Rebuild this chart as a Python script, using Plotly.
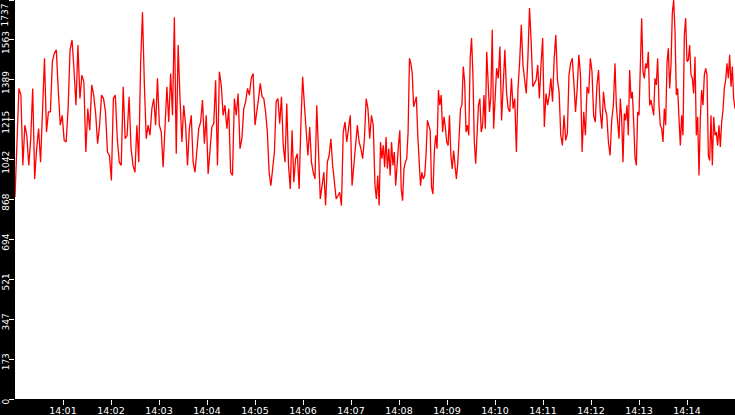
import numpy as np
import pandas as pd
import plotly.graph_objects as go

# lecturas por tramos de 2.5 min (14:00:00 -> 14:15:00)
tramo_1 = [880, 1104, 1352, 1323, 1017, 1192, 1148, 1017, 1133, 1352,
           958, 1090, 1177, 1031, 1294, 1483, 1162, 1250, 1250, 1469,
           1505, 1520, 1345, 1192, 1235, 1126, 1119, 1264, 1520, 1563,
           1432, 1279, 1541, 1308, 1410, 1381, 1075, 1264, 1170, 1367,
           1323, 1243, 1111, 1192, 1323, 1308, 1250, 1075, 1060, 951,
           1308, 1323, 1133, 1031, 1017, 1359, 1133, 1148, 1316, 1090, 1017]
tramo_2 = [987, 1192, 1031, 1461, 1684, 1367, 1133, 1192, 1148, 1264,
           1308, 1192, 1396, 1192, 1162, 1009, 1162, 1359, 1206, 1417,
           1235, 1662, 1068, 1541, 1308, 1119, 1279, 1192, 1017, 1177,
           1235, 1031, 987, 1075, 1177, 1206, 1301, 1111, 1235, 980,
           1090, 1184, 1199, 1388, 1017, 1425, 1367, 1235, 1279, 1177,
           1264, 987, 973, 1308, 1235, 1330, 1090, 1133, 1264, 1294,
           1352, 1323, 1396, 1417]
tramo_3 = [1192, 1264, 1308, 1374, 1316, 1308, 1250, 1162, 987, 929,
           1017, 1075, 1294, 1308, 1199, 1316, 1104, 1031, 1286, 1017,
           914, 1170, 944, 1046, 1068, 914, 1192, 1403, 1279, 1162,
           1060, 1184, 1031, 987, 958, 1279, 1060, 871, 929, 987,
           842, 1031, 1060, 1133, 1017, 936, 871, 885, 900, 842,
           1162, 1206, 1119, 1177, 1235, 929, 1017, 1104, 1192, 1119,
           1090, 1046, 1133, 1308, 1264, 1133, 1235, 1192]
tramo_4 = [929, 871, 973, 842, 1119, 1046, 1104, 1009, 1140, 1002,
           1090, 973, 1119, 1017, 1075, 929, 1046, 1104, 1170, 914,
           863, 1002, 1031, 1046, 1162, 1483, 1461, 1417, 1272, 1301,
           1316, 1148, 1017, 929, 987, 958, 973, 1060, 1213, 1192,
           1170, 922, 892, 1075, 1148, 1090, 1345, 1279, 1323, 1162,
           1228, 1184, 1119, 1104, 1235, 1060, 1002, 1082, 1002, 958,
           1024, 1148, 1264, 1279, 1447, 1381, 1162, 1192, 1148, 1483,
           1571, 1410, 1119, 1024, 1162, 1279, 1308, 1162, 1192, 1323,
           1177, 1512, 1381, 1250, 1316, 1607, 1177]
tramo_5 = [1316, 1440, 1396, 1534, 1213, 1367, 1520, 1337, 1264, 1250,
           1396, 1264, 1308, 1075, 1352, 1469, 1629, 1454, 1381, 1330,
           1483, 1702, 1556, 1359, 1374, 1388, 1454, 1308, 1454, 1571,
           1184, 1330, 1279, 1323, 1396, 1294, 1483, 1585, 1388, 1337,
           1148, 1104, 1235, 1126, 1155, 1410, 1461, 1483, 1374, 1250,
           1352, 1498, 1410, 1075, 1250, 1148, 1359, 1330, 1483, 1425,
           1235, 1206, 1367, 1432, 1250, 1177, 1337, 1264, 1235, 1119,
           1060, 1213, 1279]
tramo_6 = [1461, 1279, 1221, 1133, 1308, 1221, 1031, 1243, 1213, 1279,
           1148, 1432, 1308, 1337, 1206, 1053, 1017, 1250, 1235, 1439,
           1658, 1425, 1396, 1461, 1439, 1512, 1279, 1301, 1264, 1235,
           1396, 1367, 1483, 1279, 1192, 1177, 1119, 1264, 1192, 1461,
           1527, 1352, 1454, 1680, 1737, 1600, 1323, 1352, 1221, 1104,
           1235, 1148, 1585, 1658, 1469, 1476, 1541, 1410, 1396, 1330,
           1490, 1148, 1228, 973, 1221, 1345, 1279, 1410, 1439, 1410,
           1060, 1038, 1235, 1017, 1228, 1148, 1162, 1104, 1192, 1097,
           1206, 1257, 1352, 1388, 1461, 1396, 1498, 1359, 1447, 1308,
           1264]

tramos = [tramo_1, tramo_2, tramo_3, tramo_4, tramo_5, tramo_6]
inicio = pd.Timestamp('2024-01-01 14:00:00')
fin = inicio + pd.Timedelta(minutes=15)

tiempos = []
valores = []
for i, tramo in enumerate(tramos):
    t0 = inicio + pd.Timedelta(seconds=150 * i)
    seg = np.linspace(0, 150, len(tramo), endpoint=(i == len(tramos) - 1))
    tiempos += [t0 + pd.Timedelta(seconds=float(s)) for s in seg]
    valores += tramo

# eje y: 0 .. 1737 en 10 pasos
y_max = 1737
y_ticks = [y_max * k / 10 for k in range(11)]
y_labels = [str(int(v)) for v in y_ticks]
y_labels[-1] = ''  # el 1737 va como anotación para que no se corte

x_ticks = pd.date_range(inicio + pd.Timedelta(minutes=1),
                        inicio + pd.Timedelta(minutes=14), freq='1min')

fig = go.Figure(go.Scatter(
    x=tiempos, y=valores,
    mode='lines',
    line=dict(color='#ff0000', width=1.3),
    hoverinfo='skip'
))

fig.add_annotation(
    x=0, xref='paper', xanchor='right', xshift=-4,
    y=1, yref='paper', yanchor='top', yshift=-2,
    text=str(y_max), textangle=-90, showarrow=False,
    font=dict(family='DejaVu Sans', size=9, color='white')
)

fig.update_layout(
    width=735, height=415,
    margin=dict(l=15, r=0, t=0, b=16),
    paper_bgcolor='black',
    plot_bgcolor='white',
    showlegend=False,
    font=dict(family='DejaVu Sans', color='white', size=9.5),
    xaxis=dict(
        range=[inicio, fin],
        tickvals=x_ticks,
        tickformat='%H:%M',
        showgrid=False, zeroline=False,
        ticks='outside', ticklen=5, tickcolor='white', tickwidth=1,
        tickfont=dict(size=9.5, color='white'),
        ticklabelstandoff=-2,
        automargin=False
    ),
    yaxis=dict(
        range=[0, y_max],
        tickvals=y_ticks, ticktext=y_labels,
        tickangle=-90,
        showgrid=False, zeroline=False,
        ticks='outside', ticklen=5, tickcolor='white', tickwidth=1,
        tickfont=dict(size=9, color='white'),
        ticklabelstandoff=-4,
        ticklabelshift=4,
        automargin=False
    )
)

# quitar el margen del body para que la figura quede en (0, 0)
fig.write_html('out.html', config={'displayModeBar': False},
               post_script="document.body.style.margin='0';")
